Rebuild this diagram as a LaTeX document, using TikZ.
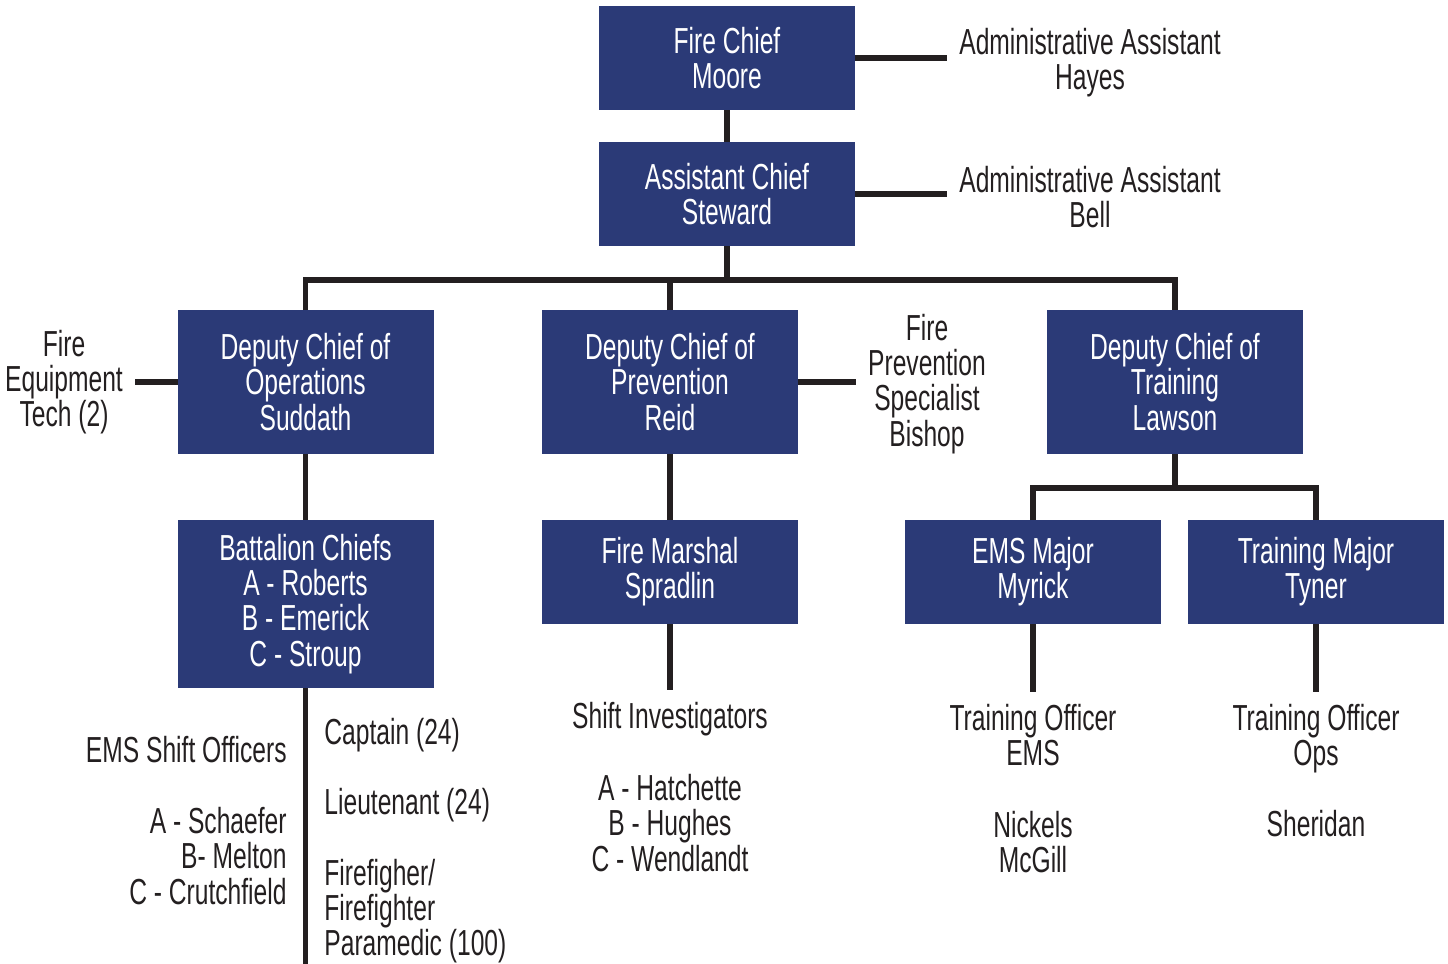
\documentclass[tikz,border=0pt]{standalone}
\usepackage{fontspec}
\setmainfont{Liberation Sans}[FakeStretch=0.68]
\definecolor{navy}{HTML}{2B3A77}
\definecolor{ink}{HTML}{231F20}
\begin{document}
\begin{tikzpicture}[main/.style = {fill=navy, text=white, align=center, minimum width=2.56cm, minimum height=1.04cm, inner sep=0pt, outer sep=0pt, font=\fontsize{10.3}{10}\selectfont},
    big/.style = {main, minimum height=1.44cm},
    txt/.style = {text=ink, align=center, font=\fontsize{10.3}{10}\selectfont},
    link/.style = {line width=1.7pt, draw=ink}]
    \useasboundingbox (0,0) rectangle (14.48,-9.64);
    \node[main] (chief) at (7.27,-0.58) {Fire Chief\\Moore};
    \node[main] (asst) at (7.27,-1.94) {Assistant Chief\\Steward};
    \node[big] (ops) at (3.055,-3.82) {Deputy Chief of\\Operations\\Suddath};
    \node[big] (prev) at (6.70,-3.82) {Deputy Chief of\\Prevention\\Reid};
    \node[big] (train) at (11.75,-3.82) {Deputy Chief of\\Training\\Lawson};
    \node[main, minimum height=1.68cm] (batt) at (3.055,-6.04) {Battalion Chiefs\\A - Roberts\\B - Emerick\\C - Stroup};
    \node[main] (marshal) at (6.70,-5.72) {Fire Marshal\\Spradlin};
    \node[main] (emsmaj) at (10.33,-5.72) {EMS Major\\Myrick};
    \node[main] (trmaj) at (13.16,-5.72) {Training Major\\Tyner};
    \node[txt] (hayes) at (10.90,-0.63) {Administrative Assistant\\Hayes};
    \node[txt] (bell) at (10.90,-1.97) {Administrative Assistant\\Bell};
    \node[txt] (feqt) at (0.64,-3.82) {Fire\\Equipment\\Tech (2)};
    \node[txt] (bishop) at (9.27,-3.84) {Fire\\Prevention\\Specialist\\Bishop};
    \node[txt, anchor=east, align=right] (emsoff) at (2.99,-7.50) {EMS Shift Officers};
    \node[txt, anchor=east, align=right] (emsnames) at (2.99,-8.56) {A - Schaefer\\B- Melton\\C - Crutchfield};
    \node[txt, anchor=west, align=left] (capt) at (3.12,-7.35) {Captain (24)};
    \node[txt, anchor=west, align=left] (lieut) at (3.12,-8.05) {Lieutenant (24)};
    \node[txt, anchor=west, align=left] (ff) at (3.12,-9.11) {Firefigher/\\Firefighter\\Paramedic (100)};
    \node[txt] (shiftinv) at (6.70,-7.19) {Shift Investigators};
    \node[txt] (invnames) at (6.70,-8.23) {A - Hatchette\\B - Hughes\\C - Wendlandt};
    \node[txt] (tremss) at (10.33,-7.35) {Training Officer\\EMS};
    \node[txt] (emsnm) at (10.33,-8.42) {Nickels\\McGill};
    \node[txt] (trops) at (13.16,-7.39) {Training Officer\\Ops};
    \node[txt] (opsnm) at (13.16,-8.24) {Sheridan};
    \coordinate (bus) at (7.27,-2.80);
    \coordinate (tbus) at (11.75,-4.88);
    \coordinate (bottom) at (3.055,-9.64);
    \draw[link] (chief) -- (chief -| hayes.west);
    \draw[link] (chief) -- (asst);
    \draw[link] (asst) -- (asst -| bell.west);
    \draw[link] (asst) -- (bus);
    \draw[link] (ops.north) |- (bus) -| (train.north);
    \draw[link] (prev) -- (prev |- bus);
    \draw[link] (ops) -- (feqt);
    \draw[link] (prev) -- (bishop.west |- prev);
    \draw[link] (ops) -- (batt);
    \draw[link] (batt) -- (bottom);
    \draw[link] (prev) -- (marshal);
    \draw[link] (marshal) -- (shiftinv);
    \draw[link] (train) -- (tbus);
    \draw[link] (emsmaj.north) |- (tbus) -| (trmaj.north);
    \draw[link] (emsmaj) -- (tremss);
    \draw[link] (trmaj) -- (trops);
\end{tikzpicture}
\end{document}
